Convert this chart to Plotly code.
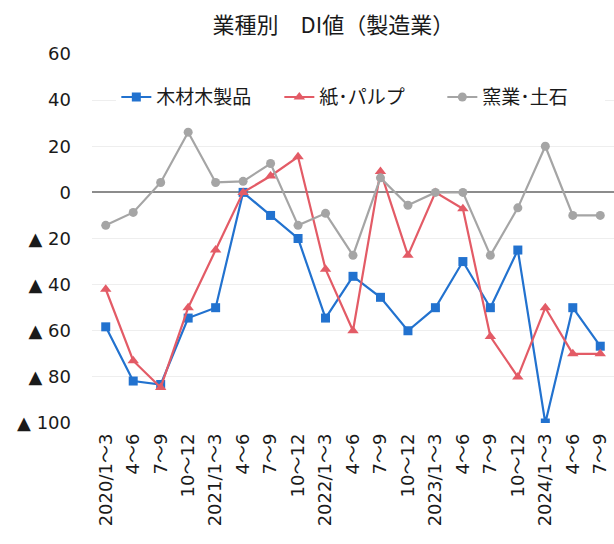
import plotly.graph_objects as go

categories = ["2020/1～3", "4～6", "7～9", "10～12",
              "2021/1～3", "4～6", "7～9", "10～12",
              "2022/1～3", "4～6", "7～9", "10～12",
              "2023/1～3", "4～6", "7～9", "10～12",
              "2024/1～3", "4～6", "7～9"]

wood = [-58.3, -81.8, -83.3, -54.5, -50.0, 0.0, -10.0, -20.0, -54.5, -36.4,
        -45.5, -60.0, -50.0, -30.0, -50.0, -25.0, -100.0, -50.0, -66.7]
paper = [-42.0, -73.0, -84.6, -50.0, -25.0, 0.0, 7.1, 15.4, -33.3, -60.0,
         9.1, -27.3, 0.0, -7.1, -62.5, -80.0, -50.0, -70.0, -70.0]
ceramic = [-14.3, -8.7, 4.3, 26.1, 4.3, 4.8, 12.5, -14.3, -9.1, -27.3,
           6.3, -5.6, 0.0, 0.0, -27.3, -6.7, 20.0, -10.0, -10.0]

ytick_vals = [60, 40, 20, 0, -20, -40, -60, -80, -100]
ytick_text = ["60", "40", "20", "0", "▲ 20", "▲ 40", "▲ 60", "▲ 80", "▲ 100"]

x = list(range(len(categories)))
font = "DejaVu Sans, Noto Sans CJK JP"
cjk = "Noto Sans CJK JP"

fig = go.Figure()
fig.add_trace(go.Scatter(x=x, y=wood, name="木材木製品", mode="lines+markers",
                         line=dict(color="#2272CF", width=2.2),
                         marker=dict(symbol="square", size=9, color="#2272CF")))
fig.add_trace(go.Scatter(x=x, y=paper, name="紙･パルプ", mode="lines+markers",
                         line=dict(color="#E35B66", width=2.2),
                         marker=dict(symbol="triangle-up", size=10, color="#E35B66")))
fig.add_trace(go.Scatter(x=x, y=ceramic, name="窯業･土石", mode="lines+markers",
                         line=dict(color="#A5A5A5", width=2.2),
                         marker=dict(symbol="circle", size=9, color="#A5A5A5")))

fig.update_layout(
    width=614, height=544,
    margin=dict(l=92, r=0, t=54, b=121),
    paper_bgcolor="white", plot_bgcolor="white",
    font=dict(family=font, size=18, color="#1a1a1a"),
    title=dict(text="業種別　DI値（製造業）", x=0.543, xanchor="center",
               y=0.954, yanchor="middle", font=dict(size=22, family=cjk, color="#1a1a1a")),
    legend=dict(orientation="h", x=0.515, xanchor="center", y=0.883, yanchor="middle",
                font=dict(size=19, family=cjk), bgcolor="rgba(255,255,255,1)",
                entrywidth=118, entrywidthmode="pixels"),
    showlegend=True,
)
fig.update_xaxes(tickmode="array", tickvals=x, ticktext=categories, tickangle=-90,
                 range=[-0.5, 18.5], showgrid=False, zeroline=False, showline=False,
                 ticks="", automargin=False, ticklabelstandoff=6,
                 tickfont=dict(size=18, family=font, color="#1a1a1a"))
fig.update_yaxes(tickmode="array", tickvals=ytick_vals, ticktext=ytick_text,
                 range=[-100, 60], showgrid=True, gridcolor="#EEEEEE", gridwidth=1,
                 zeroline=True, zerolinecolor="#8C8C8C", zerolinewidth=1.5,
                 showline=False, ticks="", ticklabelstandoff=20, automargin=False,
                 tickfont=dict(size=18, family=font, color="#1a1a1a"))

fig.write_html("out.html")
